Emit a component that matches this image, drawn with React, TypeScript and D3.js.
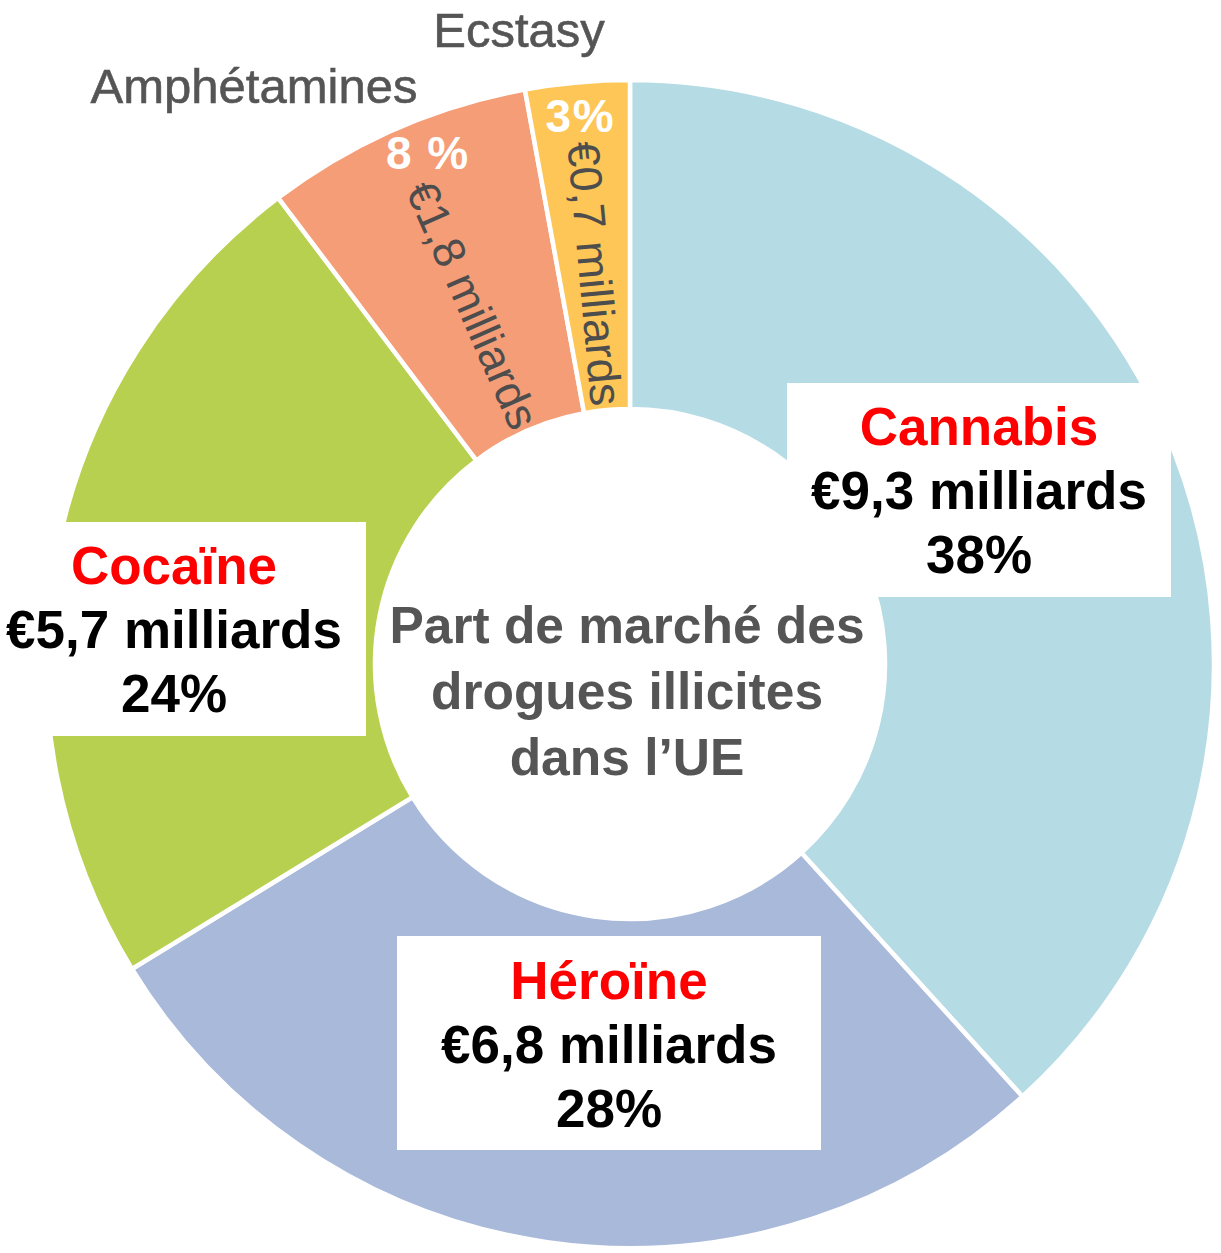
import * as d3 from 'd3';

// data
const drugs = ['Cannabis', 'Héroïne', 'Cocaïne', 'Amphétamines', 'Ecstasy'];
const valuesBn = [9.3, 6.8, 5.7, 1.8, 0.7];
const valueLabels = ['€9,3 milliards', '€6,8 milliards', '€5,7 milliards', '€1,8 milliards', '€0,7 milliards'];
const shareLabels = ['38%', '28%', '24%', '8 %', '3%'];
const centerTitle = ['Part de marché des', 'drogues illicites', 'dans l’UE'];

const colors = ['#b5dbe5', '#a9b9da', '#b8d04f', '#f59d77', '#fec657'];

const width = 1221;
const height = 1253;
const cx = 630;
const cy = 664;
const outerR = 584;
const innerR = 255;

// boxed labels for the big slices (x, y, w, h of the white box, text centre)
const boxes: Record<string, { x: number; y: number; w: number; h: number; tx: number; y0: number }> = {
  Cannabis: { x: 787, y: 383, w: 384, h: 214, tx: 979, y0: 445 },
  'Héroïne': { x: 397, y: 936, w: 424, h: 214, tx: 609, y0: 999 },
  'Cocaïne': { x: 0, y: 522, w: 366, h: 214, tx: 174, y0: 584 },
};
// outside names and share label position (fraction through the slice) for the thin slices
const outside: Record<string, { x: number; y: number; t: number }> = {
  'Amphétamines': { x: 254, y: 103, t: 0.58 },
  Ecstasy: { x: 519, y: 47, t: 0.5 },
};

export default function App() {
  const pie = d3.pie<number>().sort(null).value((d) => d);
  const arcs = pie(valuesBn);
  const arc = d3.arc<d3.PieArcDatum<number>>().innerRadius(innerR).outerRadius(outerR);

  const polar = (a: number, r: number) => [r * Math.sin(a), -r * Math.cos(a)];

  return (
    <svg
      width={width}
      height={height}
      style={{ position: 'absolute', left: 0, top: 0, background: '#fff' }}
      fontFamily="'Liberation Sans', Arial, sans-serif"
    >
      <g transform={`translate(${cx},${cy})`}>
        {arcs.map((d, i) => (
          <path key={drugs[i]} d={arc(d) || ''} fill={colors[i]} stroke="#fff" strokeWidth={4.5} />
        ))}
        {arcs.map((d, i) => {
          const o = outside[drugs[i]];
          if (!o) return null;
          const mid = (d.startAngle + d.endAngle) / 2;
          const la = d.startAngle + (d.endAngle - d.startAngle) * o.t;
          const [px, py] = polar(la, 550);
          const [vx, vy] = polar(mid, 392);
          const rot = (mid * 180) / Math.PI - 270;
          return (
            <g key={drugs[i]}>
              <text
                x={px}
                y={py}
                textAnchor="middle"
                dominantBaseline="central"
                fill="#fff"
                fontWeight="bold"
                fontSize={46}
                letterSpacing={1.5}
              >
                {shareLabels[i]}
              </text>
              <text
                transform={`translate(${vx},${vy}) rotate(${rot})`}
                textAnchor="middle"
                dominantBaseline="central"
                fill="#4d4d4d"
                fontSize={45}
              >
                {valueLabels[i]}
              </text>
            </g>
          );
        })}
      </g>

      {centerTitle.map((line, i) => (
        <text
          key={line}
          x={627}
          y={643 + i * 66}
          textAnchor="middle"
          fill="#555"
          fontWeight="bold"
          fontSize={51.5}
        >
          {line}
        </text>
      ))}

      {drugs.map((name, i) => {
        const b = boxes[name];
        if (!b) return null;
        return (
          <g key={name}>
            <rect x={b.x} y={b.y} width={b.w} height={b.h} fill="#fff" />
            <text x={b.tx} y={b.y0} textAnchor="middle" fill="#ff0000" fontWeight="bold" fontSize={53}>
              {name}
            </text>
            <text x={b.tx} y={b.y0 + 64} textAnchor="middle" fill="#000" fontWeight="bold" fontSize={53}>
              {valueLabels[i]}
            </text>
            <text x={b.tx} y={b.y0 + 128} textAnchor="middle" fill="#000" fontWeight="bold" fontSize={53}>
              {shareLabels[i]}
            </text>
          </g>
        );
      })}

      {drugs.map((name) => {
        const o = outside[name];
        if (!o) return null;
        return (
          <text key={name} x={o.x} y={o.y} textAnchor="middle" fill="#555" fontSize={49} stroke="#555" strokeWidth={0.6}>
            {name}
          </text>
        );
      })}
    </svg>
  );
}
